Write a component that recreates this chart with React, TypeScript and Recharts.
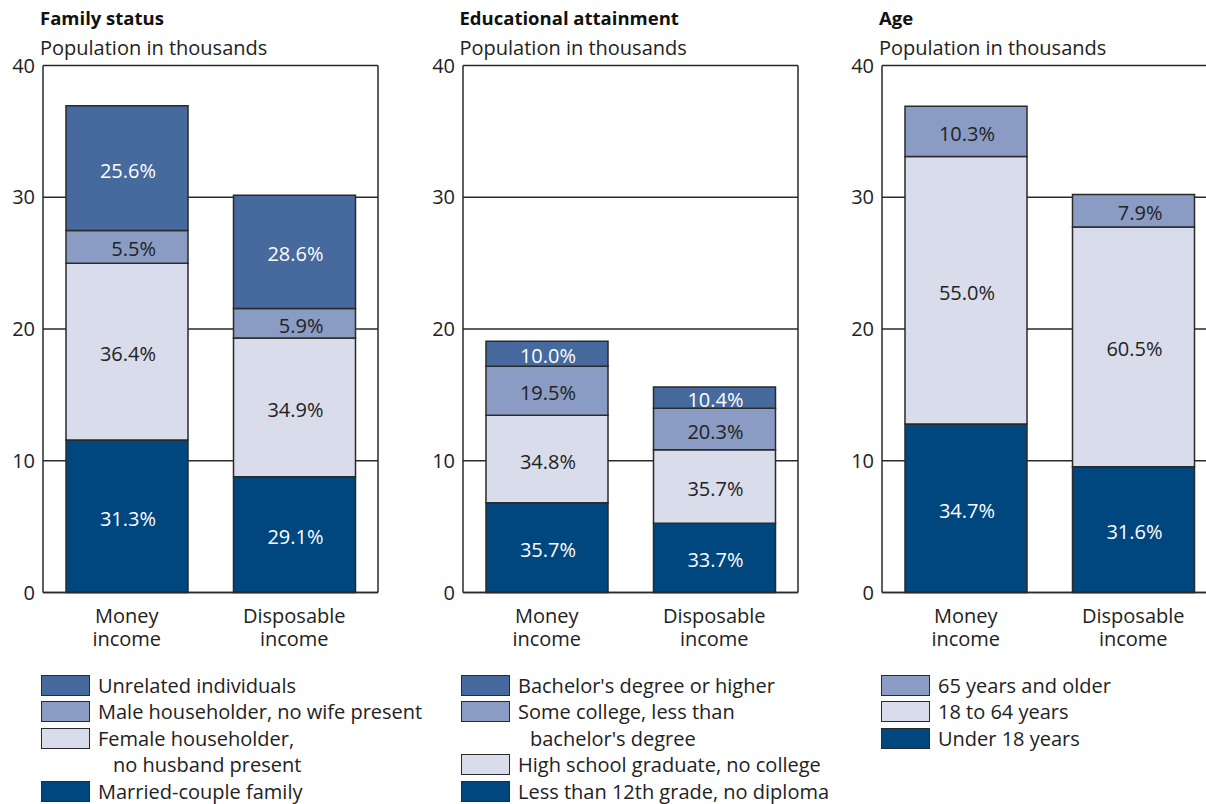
import React from "react";
import { BarChart, Bar, XAxis, YAxis, CartesianGrid, LabelList } from "recharts";

const categories = ["Money income", "Disposable income"];
const yTicks = [0, 10, 20, 30, 40];

// Family status (population in thousands)
const familyMarried = [11.57, 8.78];
const familyFemale = [13.43, 10.54];
const familyMale = [2.47, 2.23];
const familyUnrelated = [9.48, 8.61];
const familyMarriedPct = ["31.3%", "29.1%"];
const familyFemalePct = ["36.4%", "34.9%"];
const familyMalePct = ["5.5%", "5.9%"];
const familyUnrelatedPct = ["25.6%", "28.6%"];

// Educational attainment
const eduLess = [6.81, 5.26];
const eduHS = [6.64, 5.57];
const eduSome = [3.72, 3.15];
const eduBach = [1.9, 1.62];
const eduLessPct = ["35.7%", "33.7%"];
const eduHSPct = ["34.8%", "35.7%"];
const eduSomePct = ["19.5%", "20.3%"];
const eduBachPct = ["10.0%", "10.4%"];

// Age
const ageUnder18 = [12.79, 9.54];
const ageAdult = [20.3, 18.21];
const ageSenior = [3.81, 2.45];
const ageUnder18Pct = ["34.7%", "31.6%"];
const ageAdultPct = ["55.0%", "60.5%"];
const ageSeniorPct = ["10.3%", "7.9%"];

const C_DARK = "#00467f";
const C_MID = "#46699e";
const C_LIGHTMID = "#8a9cc4";
const C_LIGHT = "#d9dcea";
const STROKE = "#2a2a2a";
const FONT = "'Open Sans', sans-serif";
const FS = 20;

type Series = { key: string; name: string; values: number[]; pct: string[]; color: string; textColor: string };

const familySeries: Series[] = [
  { key: "a", name: "Married-couple family", values: familyMarried, pct: familyMarriedPct, color: C_DARK, textColor: "#ffffff" },
  { key: "b", name: "Female householder,\nno husband present", values: familyFemale, pct: familyFemalePct, color: C_LIGHT, textColor: "#222" },
  { key: "c", name: "Male householder, no wife present", values: familyMale, pct: familyMalePct, color: C_LIGHTMID, textColor: "#222" },
  { key: "d", name: "Unrelated individuals", values: familyUnrelated, pct: familyUnrelatedPct, color: C_MID, textColor: "#ffffff" },
];
const eduSeries: Series[] = [
  { key: "a", name: "Less than 12th grade, no diploma", values: eduLess, pct: eduLessPct, color: C_DARK, textColor: "#ffffff" },
  { key: "b", name: "High school graduate, no college", values: eduHS, pct: eduHSPct, color: C_LIGHT, textColor: "#222" },
  { key: "c", name: "Some college, less than\nbachelor's degree", values: eduSome, pct: eduSomePct, color: C_LIGHTMID, textColor: "#222" },
  { key: "d", name: "Bachelor's degree or higher", values: eduBach, pct: eduBachPct, color: C_MID, textColor: "#ffffff" },
];
const ageSeries: Series[] = [
  { key: "a", name: "Under 18 years", values: ageUnder18, pct: ageUnder18Pct, color: C_DARK, textColor: "#ffffff" },
  { key: "b", name: "18 to 64 years", values: ageAdult, pct: ageAdultPct, color: C_LIGHT, textColor: "#222" },
  { key: "c", name: "65 years and older", values: ageSenior, pct: ageSeniorPct, color: C_LIGHTMID, textColor: "#222" },
];

const XTick = (props: any) => {
  const { x, y, payload } = props;
  const words = String(payload.value).split(" ");
  return (
    <text x={x} y={y} textAnchor="middle" fill="#222" fontSize={FS} fontFamily={FONT}>
      <tspan x={x} dy={22}>{words[0]}</tspan>
      <tspan x={x} dy={23}>{words[1]}</tspan>
    </text>
  );
};

const makeLabel = (pct: string[], color: string) => (props: any) => {
  const { x, y, width, height, index } = props;
  return (
    <text
      x={x + width / 2 + 29}
      y={y + height / 2 + 2}
      textAnchor="end"
      dominantBaseline="central"
      fill={color}
      fontSize={FS}
      fontFamily={FONT}
    >
      {pct[index]}
    </text>
  );
};

const Panel = ({ series, left, title }: { series: Series[]; left: number; title: string }) => {
  const data = categories.map((c, i) => {
    const row: any = { name: c };
    series.forEach((s) => (row[s.key] = s.values[i]));
    return row;
  });
  return (
    <div style={{ position: "absolute", left, top: 0 }}>
      <div style={{ position: "absolute", left: 40, top: 5, fontFamily: FONT, fontWeight: 700, fontSize: 18.5, color: "#111", whiteSpace: "nowrap" }}>
        {title}
      </div>
      <div style={{ position: "absolute", left: 40, top: 34, fontFamily: FONT, fontSize: FS, color: "#222", whiteSpace: "nowrap" }}>
        Population in thousands
      </div>
      <BarChart
        width={380}
        height={670}
        data={data}
        margin={{ top: 65.5, right: 1, bottom: 0, left: 0 }}
        barCategoryGap={23}
      >
        <CartesianGrid vertical={false} stroke={STROKE} strokeWidth={1.3} />
        <XAxis
          dataKey="name"
          tick={<XTick />}
          tickLine={false}
          axisLine={{ stroke: STROKE, strokeWidth: 1.5 }}
          height={77.5}
          interval={0}
        />
        <YAxis
          domain={[0, 40]}
          ticks={yTicks}
          tickLine={false}
          axisLine={{ stroke: STROKE, strokeWidth: 1.5 }}
          width={43}
          tick={{ fill: "#222", fontSize: FS, fontFamily: FONT }}
          interval={0}
        />
        <YAxis
          yAxisId="r"
          orientation="right"
          domain={[0, 40]}
          tick={false}
          tickLine={false}
          axisLine={{ stroke: STROKE, strokeWidth: 1.5 }}
          width={1}
        />
        {series.map((s) => (
          <Bar key={s.key} dataKey={s.key} stackId="s" fill={s.color} stroke={STROKE} strokeWidth={1.5} isAnimationActive={false}>
            <LabelList dataKey={s.key} content={makeLabel(s.pct, s.textColor)} />
          </Bar>
        ))}
      </BarChart>
    </div>
  );
};

const Legend = ({ series, left, indent }: { series: Series[]; left: number; indent: number }) => {
  const items = [...series].reverse();
  const rows: React.ReactNode[] = [];
  items.forEach((s) => {
    const lines = s.name.split("\n");
    lines.forEach((ln, j) => {
      rows.push(
        <div key={s.key + j} style={{ height: 26.5, display: "flex", alignItems: "center", whiteSpace: "nowrap" }}>
          {j === 0 ? (
            <div style={{ width: 47, height: 19, background: s.color, border: `1px solid ${STROKE}`, marginRight: 8, flex: "none" }} />
          ) : (
            <div style={{ width: 49 + 8 + indent, flex: "none" }} />
          )}
          <span>{ln}</span>
        </div>
      );
    });
  });
  return (
    <div style={{ position: "absolute", left, top: 672, fontFamily: FONT, fontSize: FS, color: "#222" }}>{rows}</div>
  );
};

export default function App() {
  return (
    <div style={{ position: "absolute", left: 0, top: 0, width: 1206, height: 804, overflow: "hidden", background: "#fff" }}>
      <Panel series={familySeries} left={0} title="Family status" />
      <Panel series={eduSeries} left={419.5} title="Educational attainment" />
      <Panel series={ageSeries} left={839} title="Age" />
      <Legend series={familySeries} left={41} indent={15} />
      <Legend series={eduSeries} left={461} indent={12} />
      <Legend series={ageSeries} left={881} indent={0} />
    </div>
  );
}
